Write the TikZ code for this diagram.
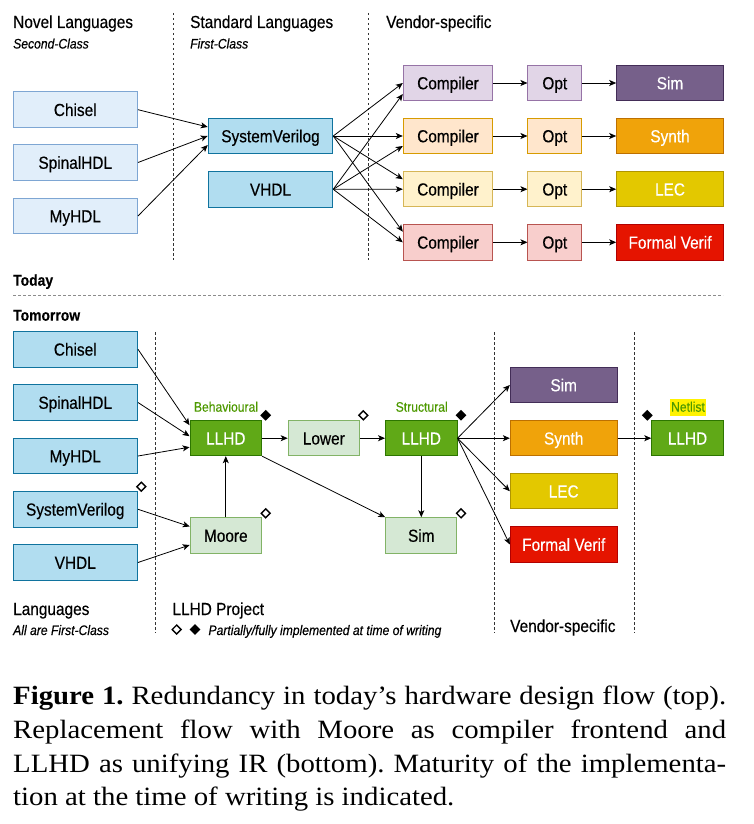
\documentclass[tikz,border=0pt]{standalone}
\usepackage{fontspec}
\usetikzlibrary{arrows.meta,calc,shapes.geometric}
\newfontfamily\rob[FakeStretch=0.88,FakeBold=0.35]{Liberation Sans}
\newfontfamily\capfont[FakeStretch=1.09]{Liberation Serif}
\frenchspacing
\definecolor{novelF}{HTML}{E1EEFA}
\definecolor{novelD}{HTML}{7EA6D3}
\definecolor{stdF}{HTML}{B1DDF0}
\definecolor{stdD}{HTML}{10739E}
\definecolor{purF}{HTML}{E1D5E7}
\definecolor{purD}{HTML}{9673A6}
\definecolor{oraF}{HTML}{FFE6CC}
\definecolor{oraD}{HTML}{D79B00}
\definecolor{yelF}{HTML}{FFF2CC}
\definecolor{yelD}{HTML}{D6B656}
\definecolor{redF}{HTML}{F8CECC}
\definecolor{redD}{HTML}{B85450}
\definecolor{simF}{HTML}{76608A}
\definecolor{simD}{HTML}{432D57}
\definecolor{synF}{HTML}{F0A30A}
\definecolor{synD}{HTML}{BD7000}
\definecolor{lecF}{HTML}{E3C800}
\definecolor{lecD}{HTML}{B09500}
\definecolor{fvF}{HTML}{E51400}
\definecolor{fvD}{HTML}{B20000}
\definecolor{llF}{HTML}{60A917}
\definecolor{llD}{HTML}{2D7600}
\definecolor{lgF}{HTML}{D5E8D4}
\definecolor{lgD}{HTML}{82B366}
\definecolor{grnT}{HTML}{4D9900}
\begin{document}
\begin{tikzpicture}[x=1pt,y=-1pt,
  bx/.style={draw, line width=1pt, minimum height=35.5pt, inner sep=0pt,
    text height=13.4pt, text depth=0.8pt, font=\rob\fontsize{17.5}{20}\selectfont},
  novel/.style={bx, fill=novelF, draw=novelD, minimum width=124.5pt},
  stdl/.style={bx, fill=stdF, draw=stdD, minimum width=124.5pt},
  comp/.style={bx, minimum width=89.4pt},
  opt/.style={bx, minimum width=53.7pt},
  tool/.style={bx, minimum width=106.6pt, text=white},
  llhd/.style={bx, fill=llF, draw=llD, minimum width=71.5pt, minimum height=35pt, text=white},
  lgreen/.style={bx, fill=lgF, draw=lgD, minimum width=71.2pt},
  hd/.style={inner sep=0pt, font=\rob\fontsize{17.5}{20}\selectfont},
  sub/.style={inner sep=0pt, font=\rob\itshape\fontsize{13.8}{16}\selectfont},
  bhd/.style={inner sep=0pt, font=\rob\bfseries\fontsize{15.8}{18}\selectfont},
  glab/.style={inner sep=0pt, text=grnT, font=\rob\fontsize{13.8}{16}\selectfont},
  arr/.style={-{Stealth[length=7pt,width=6pt,inset=1.8pt]}, line width=0.8pt},
  vdash/.style={draw=black!80, line width=0.9pt, dash pattern=on 2.5pt off 2.5pt},
  hdash/.style={draw=black!45, line width=1.2pt, dash pattern=on 2.5pt off 2.5pt},
  fdia/.style={diamond, fill=black, inner sep=0pt, minimum width=11pt, minimum height=11pt},
  hdia/.style={diamond, draw=black, fill=white, line width=1.4pt, inner sep=0pt, minimum width=9.5pt, minimum height=9.5pt},
  capl/.style={inner sep=0pt, anchor=base west, font=\capfont\fontsize{26.4}{33}\selectfont}
]
\useasboundingbox (0,0) rectangle (754,824);

% ---------- TOP ----------
\node[hd, anchor=base west] (hNovel) at (13,28) {Novel Languages};
\node[sub, anchor=base west] (sNovel) at (13,48.5) {Second-Class};
\node[hd, anchor=base west] (hStd) at (190,28) {Standard Languages};
\node[sub, anchor=base west] (sStd) at (190,48.5) {First-Class};
\node[hd, anchor=base west] (hVend) at (386,28) {Vendor-specific};

\coordinate (v1a) at (173,13); \coordinate (v1b) at (173,260);
\coordinate (v2a) at (368,13); \coordinate (v2b) at (368,260);
\draw[vdash] (v1a) -- (v1b);
\draw[vdash] (v2a) -- (v2b);

\node[novel] (chT) at (75.25,109.7) {Chisel};
\node[novel] (spT) at (75.25,162.5) {SpinalHDL};
\node[novel] (myT) at (75.25,216) {MyHDL};
\node[stdl] (svT) at (270.5,136) {SystemVerilog};
\node[stdl] (vhT) at (270.5,189.3) {VHDL};

\node[comp, fill=purF, draw=purD] (c1) at (448,83) {Compiler};
\node[comp, fill=oraF, draw=oraD] (c2) at (448,136) {Compiler};
\node[comp, fill=yelF, draw=yelD] (c3) at (448,189.2) {Compiler};
\node[comp, fill=redF, draw=redD] (c4) at (448,242.3) {Compiler};
\node[opt, fill=purF, draw=purD] (o1) at (554.8,83) {Opt};
\node[opt, fill=oraF, draw=oraD] (o2) at (554.8,136) {Opt};
\node[opt, fill=yelF, draw=yelD] (o3) at (554.8,189.2) {Opt};
\node[opt, fill=redF, draw=redD] (o4) at (554.8,242.3) {Opt};
\node[tool, fill=simF, draw=simD] (t1) at (670,83) {Sim};
\node[tool, fill=synF, draw=synD] (t2) at (670,136) {Synth};
\node[tool, fill=lecF, draw=lecD] (t3) at (670,189.2) {LEC};
\node[tool, fill=fvF, draw=fvD] (t4) at (670,242.3) {Formal Verif};

\draw[arr] (chT.east) -- ($(svT.west)+(0,-9)$);
\draw[arr] (spT.east) -- (svT.west);
\draw[arr] (myT.east) -- ($(svT.west)+(0,9)$);

\draw[arr] (svT.east) -- (c1.west);
\draw[arr] (svT.east) -- (c2.west);
\draw[arr] (svT.east) -- ($(c3.west)+(0,-10)$);
\draw[arr] (svT.east) -- ($(c4.west)+(0,-10.6)$);
\draw[arr] (vhT.east) -- ($(c1.west)+(0,11)$);
\draw[arr] (vhT.east) -- ($(c2.west)+(0,10)$);
\draw[arr] (vhT.east) -- (c3.west);
\draw[arr] (vhT.east) -- (c4.west);

\foreach \i in {1,2,3,4}{
  \draw[arr] (c\i.east) -- (o\i.west);
  \draw[arr] (o\i.east) -- (t\i.west);
}

% ---------- separator ----------
\node[bhd, anchor=base west] (today) at (13,285.7) {Today};
\coordinate (hsa) at (13,295.7); \coordinate (hsb) at (723,295.7);
\draw[hdash] (hsa) -- (hsb);
\node[bhd, anchor=base west] (tomorrow) at (13,320.7) {Tomorrow};

% ---------- BOTTOM ----------
\coordinate (w1a) at (155,332); \coordinate (w1b) at (155,633);
\coordinate (w2a) at (494.3,332); \coordinate (w2b) at (494.3,633);
\coordinate (w3a) at (634.3,332); \coordinate (w3b) at (634.3,633);
\draw[vdash] (w1a) -- (w1b);
\draw[vdash] (w2a) -- (w2b);
\draw[vdash] (w3a) -- (w3b);

\node[stdl] (chB) at (75.25,349.3) {Chisel};
\node[stdl] (spB) at (75.25,402.5) {SpinalHDL};
\node[stdl] (myB) at (75.25,456) {MyHDL};
\node[stdl] (svB) at (75.25,509.3) {SystemVerilog};
\node[stdl] (vhB) at (75.25,562.5) {VHDL};

\node[llhd] (llB) at (225.8,438.2) {LLHD};
\node[lgreen] (lower) at (323.8,438.2) {Lower};
\node[llhd] (llS) at (421.3,438.2) {LLHD};
\node[lgreen] (moore) at (225.8,535.5) {Moore};
\node[lgreen] (simB) at (421.3,535.5) {Sim};

\node[tool, fill=simF, draw=simD, minimum width=106.7pt] (bSim) at (563.7,385) {Sim};
\node[tool, fill=synF, draw=synD, minimum width=106.7pt] (bSyn) at (563.7,438.2) {Synth};
\node[tool, fill=lecF, draw=lecD, minimum width=106.7pt] (bLec) at (563.7,491.2) {LEC};
\node[tool, fill=fvF, draw=fvD, minimum width=106.7pt] (bFv) at (563.7,544.5) {Formal Verif};
\node[llhd] (nl) at (687.5,438.2) {LLHD};

\node[glab, anchor=base] (lBeh) at (226,411.7) {Behavioural};
\node[glab, anchor=base] (lStr) at (421.7,411.7) {Structural};
\node[glab, anchor=base, fill=yellow, inner xsep=1.2pt, inner ysep=0.8pt, text height=12pt, text depth=3.5pt] (lNet) at (688,411.7) {Netlist};

\node[fdia] (d1) at (265.7,415.3) {};
\node[hdia] (d2) at (363.3,415.3) {};
\node[fdia] (d3) at (461,415.3) {};
\node[fdia] (d4) at (647.3,415.3) {};
\node[hdia] (d5) at (141.3,486.7) {};
\node[hdia] (d6) at (265.7,513.3) {};
\node[hdia] (d7) at (461,513.3) {};

\draw[arr] (chB.east) -- ($(llB.west)+(0,-13)$);
\draw[arr] (spB.east) -- ($(llB.west)+(0,-2)$);
\draw[arr] (myB.east) -- ($(llB.west)+(0,9)$);
\draw[arr] (svB.east) -- ($(moore.west)+(0,-9)$);
\draw[arr] (vhB.east) -- ($(moore.west)+(0,9.5)$);
\draw[arr] (moore.north) -- (llB.south);
\draw[arr] (llB.east) -- (lower.west);
\draw[arr] (lower.east) -- (llS.west);
\draw[arr] (llB.south east) -- (simB.north west);
\draw[arr] (llS.south) -- (simB.north);
\draw[arr] (llS.east) -- (bSim.west);
\draw[arr] (llS.east) -- (bSyn.west);
\draw[arr] (llS.east) -- (bLec.west);
\draw[arr] (llS.east) -- (bFv.west);
\draw[arr] (bSyn.east) -- (nl.west);

\node[hd, anchor=base west] (fLang) at (13,615) {Languages};
\node[sub, anchor=base west] (fLangS) at (13,635) {All are First-Class};
\node[hd, anchor=base west] (fProj) at (172.3,615) {LLHD Project};
\node[hdia] (lg1) at (176.7,629.5) {};
\node[fdia] (lg2) at (195,629.5) {};
\node[sub, anchor=base west] (fLeg) at (208.3,635) {Partially/fully implemented at time of writing};
\node[hd, anchor=base west] (fVend) at (510,632) {Vendor-specific};

% ---------- caption ----------
\node[capl] (cap1) at (13,704) {\makebox[713pt][s]{\textbf{Figure 1.} Redundancy in today’s hardware design flow (top).}};
\node[capl] (cap2) at (13,738) {\makebox[713pt][s]{Replacement flow with Moore as compiler frontend and}};
\node[capl] (cap3) at (13,772) {\makebox[713pt][s]{LLHD as unifying IR (bottom). Maturity of the implementa-}};
\node[capl] (cap4) at (13,805.5) {tion at the time of writing is indicated.};
\end{tikzpicture}
\end{document}
